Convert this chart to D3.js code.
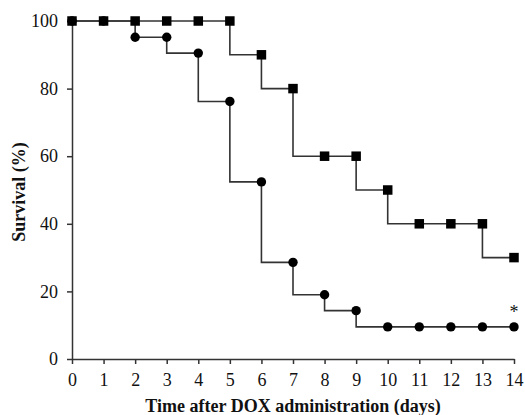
<!DOCTYPE html>
<html>
<head>
<meta charset="utf-8">
<script src="https://cdn.jsdelivr.net/npm/d3@7"></script>
<style>
  body { margin: 0; background: #fff; }
  svg { display: block; }
  .axis text { font-family: "Liberation Serif", "Times New Roman", serif; font-size: 18px; fill: #111; }
  .axis path, .axis line { stroke: #333; stroke-width: 1.5; }
  .title { font-family: "Liberation Serif", "Times New Roman", serif; font-size: 18px; font-weight: bold; fill: #111; }
</style>
</head>
<body>
<div id="chart"></div>
<script>
var W = 525, H = 415;
var margin = {top: 21, right: 11, bottom: 56, left: 72};

// data
var days = [0, 1, 2, 3, 4, 5, 6, 7, 8, 9, 10, 11, 12, 13, 14];
var squareSurvival = [100, 100, 100, 100, 100, 100, 90, 80, 60, 60, 50, 40, 40, 40, 30];
var circleSurvival = [100, 100, 95.2, 95.2, 90.5, 76.2, 52.4, 28.6, 19.0, 14.3, 9.5, 9.5, 9.5, 9.5, 9.5];
// extra corner on the circle curve (drop drawn at day 2, no marker)
var circleExtra = [[2, 100]];
var yTicks = [0, 20, 40, 60, 80, 100];
var xTicks = days;
var xTitle = "Time after DOX administration (days)";
var yTitle = "Survival (%)";

var x = d3.scaleLinear().domain([0, 14]).range([margin.left, W - margin.right]);
var y = d3.scaleLinear().domain([0, 100]).range([H - margin.bottom, margin.top]);

var svg = d3.select("#chart").append("svg")
    .attr("width", W)
    .attr("height", H);

// axes
svg.append("g")
    .attr("class", "axis")
    .attr("transform", "translate(0," + y(0) + ")")
    .call(d3.axisBottom(x).tickValues(xTicks).tickSize(5).tickPadding(9).tickSizeOuter(0));

svg.append("g")
    .attr("class", "axis")
    .attr("transform", "translate(" + x(0) + ",0)")
    .call(d3.axisLeft(y).tickValues(yTicks).tickSize(5).tickPadding(9).tickSizeOuter(0));

// lines
var squarePts = days.map(function(d, i) { return [d, squareSurvival[i]]; });
var circlePts = days.map(function(d, i) { return [d, circleSurvival[i]]; });
var circleLinePts = circlePts.concat(circleExtra).sort(function(a, b) { return a[0] - b[0] || b[1] - a[1]; });

var line = d3.line()
    .x(function(d) { return x(d[0]); })
    .y(function(d) { return y(d[1]); })
    .curve(d3.curveStepBefore);

svg.append("path")
    .datum(squarePts)
    .attr("d", line)
    .attr("fill", "none")
    .attr("stroke", "#333")
    .attr("stroke-width", 1.6);

svg.append("path")
    .datum(circleLinePts)
    .attr("d", line)
    .attr("fill", "none")
    .attr("stroke", "#333")
    .attr("stroke-width", 1.6);

// markers
svg.selectAll("circle.pt")
    .data(circlePts)
    .enter().append("circle")
    .attr("class", "pt")
    .attr("cx", function(d) { return x(d[0]); })
    .attr("cy", function(d) { return y(d[1]); })
    .attr("r", 4.7)
    .attr("fill", "#000");

var s = 9.5;
svg.selectAll("rect.pt")
    .data(squarePts)
    .enter().append("rect")
    .attr("class", "pt")
    .attr("x", function(d) { return x(d[0]) - s / 2; })
    .attr("y", function(d) { return y(d[1]) - s / 2; })
    .attr("width", s)
    .attr("height", s)
    .attr("fill", "#000");

// significance mark
var last = circlePts[circlePts.length - 1];
svg.append("text")
    .attr("x", x(last[0]))
    .attr("y", y(last[1]) - 9)
    .attr("text-anchor", "middle")
    .style("font-family", "Liberation Serif, serif")
    .style("font-size", "18px")
    .attr("fill", "#111")
    .text("*");

// titles
svg.append("text")
    .attr("class", "title")
    .attr("x", (x(0) + x(14)) / 2)
    .attr("y", 412)
    .attr("text-anchor", "middle")
    .text(xTitle);

svg.append("text")
    .attr("class", "title")
    .attr("transform", "translate(25," + (y(50) + 2) + ") rotate(-90)")
    .attr("text-anchor", "middle")
    .text(yTitle);
</script>
</body>
</html>
